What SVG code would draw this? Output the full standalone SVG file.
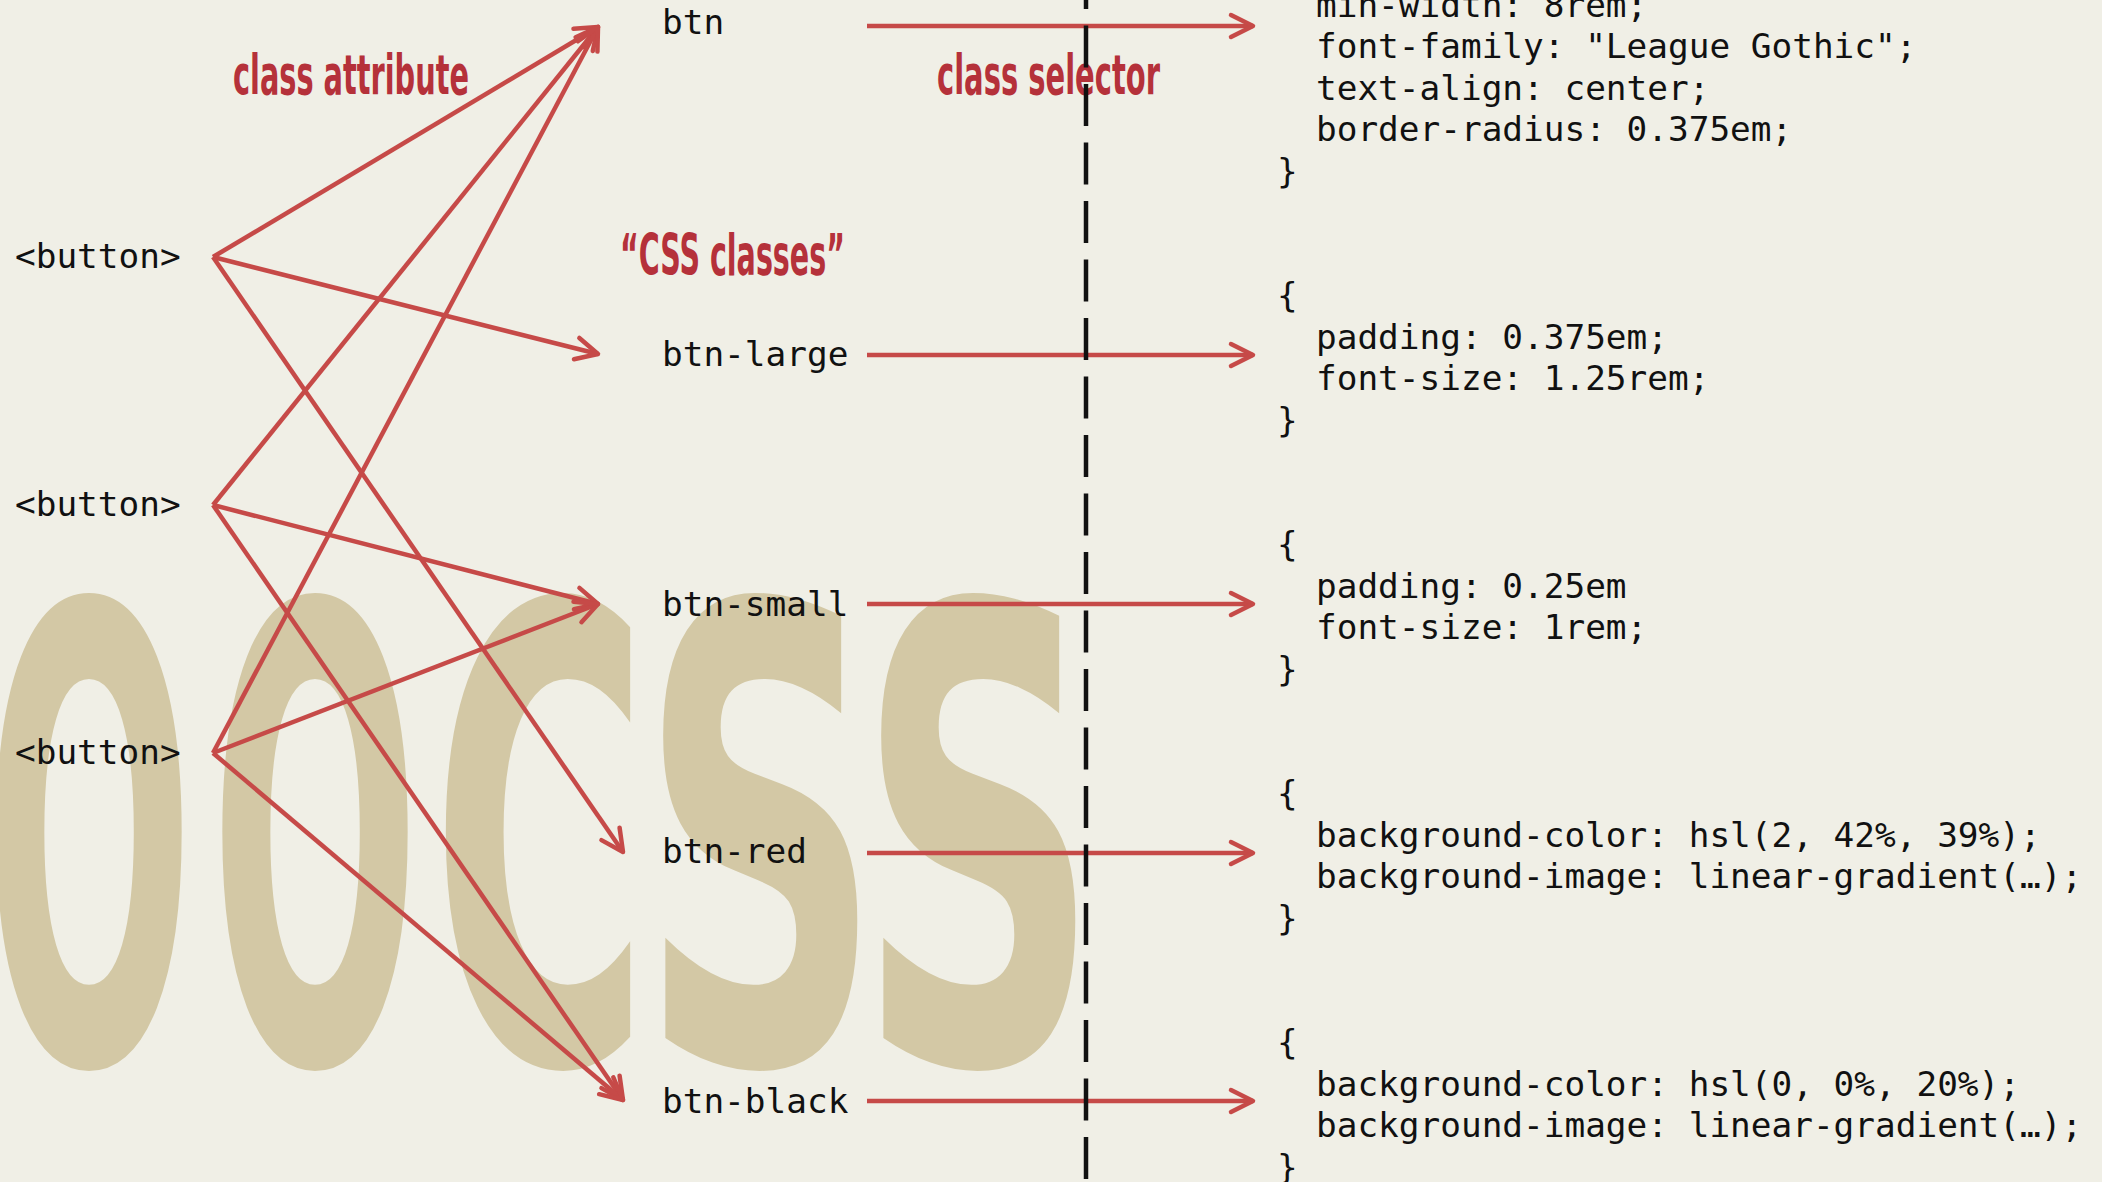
<svg xmlns="http://www.w3.org/2000/svg" width="2102" height="1182" viewBox="0 0 2102 1182">
<defs>
<style>
.bg{fill:#f0efe6}
.wm{fill:#d3c8a5;font-family:'DejaVu Sans Condensed','DejaVu Sans',sans-serif;font-stretch:condensed;font-weight:bold}
.hd{fill:#b5313a;font-family:'DejaVu Sans Condensed','DejaVu Sans',sans-serif;font-stretch:condensed;font-weight:bold}
.mono{fill:#111;font-family:'DejaVu Sans Mono','Liberation Mono',monospace;font-size:34.4px}
.conn{stroke:#c64a48;stroke-width:4.5;fill:none;marker-end:url(#ah)}
.dash{stroke:#111;stroke-width:4.5;stroke-dasharray:42 16.5;stroke-dashoffset:33;fill:none}
</style>
<marker id="ah" viewBox="-28 -16 32 32" markerWidth="32" markerHeight="32" refX="0" refY="0" orient="auto" markerUnits="userSpaceOnUse">
<path d="M-22,-11 L0,0 L-22,11" fill="none" stroke="#c64a48" stroke-width="4.5" stroke-linecap="round" stroke-linejoin="round"/>
</marker>
</defs>
<rect class="bg" x="0" y="0" width="2102" height="1182"/>
<g id="watermark">
<text class="wm" y="1062" font-size="632"><tspan x="-16" textLength="210" lengthAdjust="spacingAndGlyphs">O</tspan><tspan x="210" textLength="210" lengthAdjust="spacingAndGlyphs">O</tspan><tspan x="431" textLength="218" lengthAdjust="spacingAndGlyphs">C</tspan><tspan x="639" textLength="243" lengthAdjust="spacingAndGlyphs">S</tspan><tspan x="857" textLength="243" lengthAdjust="spacingAndGlyphs">S</tspan></text>
</g>
<g id="annotations">
<text class="hd" x="233" y="94" font-size="55" textLength="236" lengthAdjust="spacingAndGlyphs">class attribute</text>
<text class="hd" x="937" y="94" font-size="55" textLength="223" lengthAdjust="spacingAndGlyphs">class selector</text>
<text class="hd" x="620" y="275" font-size="57" textLength="225" lengthAdjust="spacingAndGlyphs">“CSS classes”</text>
</g>
<g id="button-1"><text class="mono" x="15" y="268">&lt;button&gt;</text></g>
<g id="button-2"><text class="mono" x="15" y="516">&lt;button&gt;</text></g>
<g id="button-3"><text class="mono" x="15" y="764">&lt;button&gt;</text></g>
<g id="class-btn"><text class="mono" x="662" y="34">btn</text></g>
<g id="class-btn-large"><text class="mono" x="662" y="366">btn-large</text></g>
<g id="class-btn-small"><text class="mono" x="662" y="616">btn-small</text></g>
<g id="class-btn-red"><text class="mono" x="662" y="863">btn-red</text></g>
<g id="class-btn-black"><text class="mono" x="662" y="1113">btn-black</text></g>
<g id="rule-btn" class="mono">
<text x="1316" y="16.5">min-width: 8rem;</text>
<text x="1316" y="58">font-family: "League Gothic";</text>
<text x="1316" y="99.5">text-align: center;</text>
<text x="1316" y="141">border-radius: 0.375em;</text>
<text x="1277" y="182.5">}</text>
</g>
<g id="rule-btn-large" class="mono">
<text x="1277" y="307">{</text>
<text x="1316" y="348.5">padding: 0.375em;</text>
<text x="1316" y="390">font-size: 1.25rem;</text>
<text x="1277" y="431.5">}</text>
</g>
<g id="rule-btn-small" class="mono">
<text x="1277" y="556">{</text>
<text x="1316" y="597.5">padding: 0.25em</text>
<text x="1316" y="639">font-size: 1rem;</text>
<text x="1277" y="680.5">}</text>
</g>
<g id="rule-btn-red" class="mono">
<text x="1277" y="805">{</text>
<text x="1316" y="846.5">background-color: hsl(2, 42%, 39%);</text>
<text x="1316" y="888">background-image: linear-gradient(…);</text>
<text x="1277" y="929.5">}</text>
</g>
<g id="rule-btn-black" class="mono">
<text x="1277" y="1054">{</text>
<text x="1316" y="1095.5">background-color: hsl(0, 0%, 20%);</text>
<text x="1316" y="1137">background-image: linear-gradient(…);</text>
<text x="1277" y="1178.5">}</text>
</g>
<g id="connectors">
<line class="conn" x1="213" y1="257" x2="598" y2="27"/>
<line class="conn" x1="213" y1="257" x2="598" y2="354"/>
<line class="conn" x1="213" y1="257" x2="623" y2="852"/>
<line class="conn" x1="213" y1="505" x2="598" y2="27"/>
<line class="conn" x1="213" y1="505" x2="598" y2="604"/>
<line class="conn" x1="213" y1="505" x2="623" y2="1100"/>
<line class="conn" x1="213" y1="753" x2="598" y2="27"/>
<line class="conn" x1="213" y1="753" x2="598" y2="604"/>
<line class="conn" x1="213" y1="753" x2="623" y2="1100"/>
<line class="conn" x1="867" y1="26" x2="1253" y2="26"/>
<line class="conn" x1="867" y1="355" x2="1253" y2="355"/>
<line class="conn" x1="867" y1="604" x2="1253" y2="604"/>
<line class="conn" x1="867" y1="853" x2="1253" y2="853"/>
<line class="conn" x1="867" y1="1101" x2="1253" y2="1101"/>
</g>
<g id="divider">
<line class="dash" x1="1086" y1="0" x2="1086" y2="1182"/>
</g>
</svg>
